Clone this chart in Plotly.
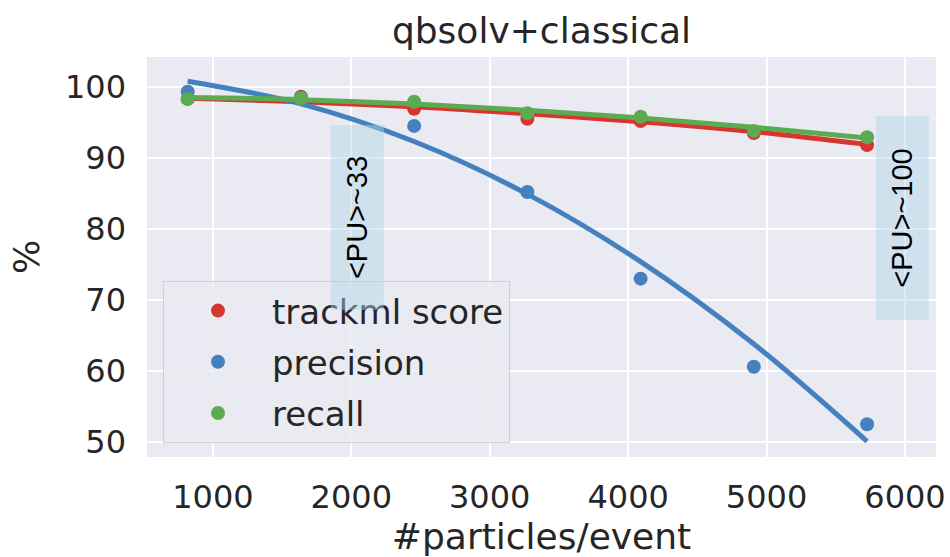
import plotly.graph_objects as go

# ---- data ----
particles = [818, 1636, 2454, 3272, 4090, 4908, 5726]

trackml = [98.3, 98.6, 96.9, 95.5, 95.2, 93.5, 91.8]
precision = [99.3, 98.5, 94.5, 85.2, 73.0, 60.6, 52.5]
recall = [98.3, 98.4, 97.9, 96.3, 95.8, 93.8, 92.9]

# regression (order-2 fit) curves
trackml_fit = [98.4, 97.9, 97.2, 96.2, 95.1, 93.7, 91.9]
precision_fit = [100.8, 97.6, 92.3, 84.9, 75.4, 63.8, 50.1]
recall_fit = [98.5, 98.2, 97.6, 96.7, 95.6, 94.3, 92.8]

series = [
    ("trackml score", trackml, trackml_fit, "#d8352f"),
    ("precision", precision, precision_fit, "#4581bf"),
    ("recall", recall, recall_fit, "#5cab52"),
]

x_ticks = [1000, 2000, 3000, 4000, 5000, 6000]
y_ticks = [50, 60, 70, 80, 90, 100]

pu_labels = ["<PU>~33", "<PU>~100"]
pu_x = [2040, 5978]

TXT = "#262626"
FONT = "DejaVu Sans"

fig = go.Figure()
for i, (name, pts, fit, col) in enumerate(series):
    fig.add_trace(go.Scatter(
        x=particles, y=pts, mode="markers", name=name,
        legendgroup=name,
        marker=dict(size=14, color=col),
        showlegend=True,
    ))
    fig.add_trace(go.Scatter(
        x=particles, y=fit, mode="lines", name=name + " fit",
        legendgroup=name,
        line=dict(color=col, width=5, shape="spline"),
        showlegend=False, hoverinfo="skip",
    ))

for lab, xv in zip(pu_labels, pu_x):
    fig.add_annotation(
        x=xv, y=81.6, xref="x", yref="y", text=lab, showarrow=False,
        textangle=-90,
        font=dict(family="Liberation Sans", size=29, color="black"),
        bgcolor="rgba(173,216,230,0.45)",
        borderpad=10,
        width=164 if lab == "<PU>~33" else 183,
        height=32,
    )

fig.update_layout(
    width=950, height=557,
    margin=dict(l=147, r=14, t=57, b=100),
    paper_bgcolor="white",
    plot_bgcolor="#EAEAF2",
    font=dict(family=FONT, color=TXT),
    title=dict(text="qbsolv+classical", x=(147 + 936) / 2 / 950, xanchor="center",
               y=1 - 30 / 557, yanchor="middle", yref="container",
               font=dict(size=36, color=TXT, family=FONT)),
    xaxis=dict(
        range=[524, 6224], tickvals=x_ticks, ticks="", automargin=False,
        showgrid=True, gridcolor="white", gridwidth=2, zeroline=False,
        showline=False, tickfont=dict(size=32, color=TXT, family=FONT),
        ticklabelstandoff=18,
        title=dict(text="#particles/event", font=dict(size=36, color=TXT, family=FONT), standoff=6),
    ),
    yaxis=dict(
        range=[47.9, 104.2], tickvals=y_ticks, ticks="", automargin=False,
        showgrid=True, gridcolor="white", gridwidth=2, zeroline=False,
        showline=False, tickfont=dict(size=32, color=TXT, family=FONT),
        ticklabelstandoff=20,
        title=dict(text="%", font=dict(size=36, color=TXT, family=FONT), standoff=14),
    ),
    legend=dict(
        x=(163 - 147) / 789, y=(457 - 281) / 400, xanchor="left", yanchor="top",
        bgcolor="rgba(234,234,242,0.85)", bordercolor="#cfcfd6", borderwidth=1,
        font=dict(size=34, color=TXT, family=FONT),
        itemwidth=98, tracegroupgap=4,
    ),
    showlegend=True,
)

fig.write_html("out.html")
